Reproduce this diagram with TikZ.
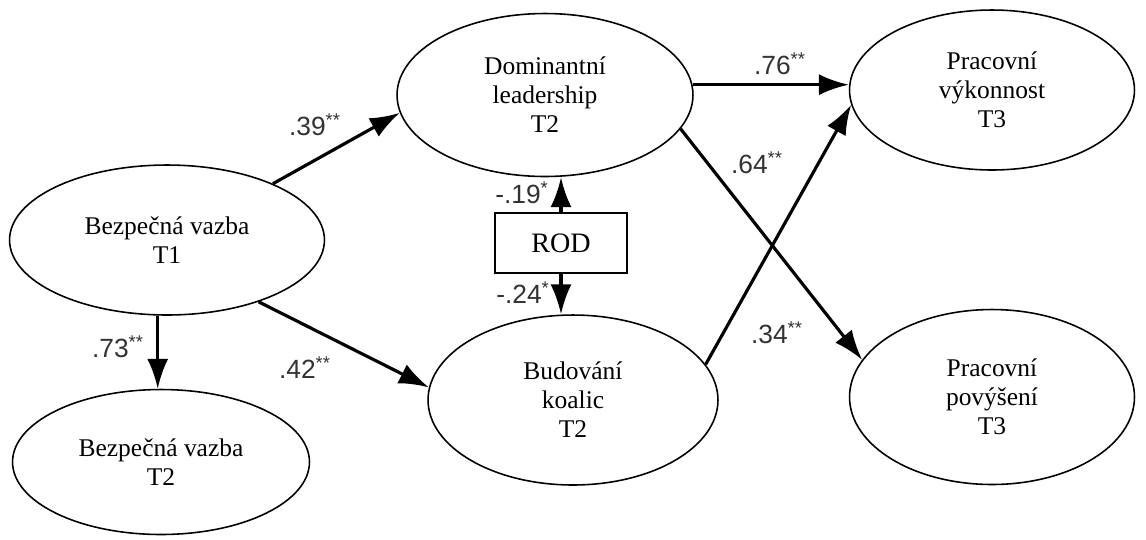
\documentclass[tikz,border=0pt]{standalone}
\usepackage{fontspec}
\setmainfont{Liberation Serif}
\newfontfamily\coeffont{Liberation Sans}
\usetikzlibrary{positioning,shapes.geometric,arrows.meta}
\definecolor{InkBlack}{RGB}{0,0,0}
\definecolor{CoefGray}{RGB}{50,50,50}

\begin{document}
\begin{tikzpicture}[
  x=0.02cm, y=-0.02cm,
  var/.style={
    ellipse, draw=InkBlack, line width=0.9pt,
    align=center, inner sep=0pt,
    font=\fontsize{14.5}{16.5}\selectfont
  },
  rodbox/.style={
    rectangle, draw=InkBlack, line width=1.5pt,
    minimum width=2.64cm, minimum height=1.2cm,
    font=\fontsize{16}{18}\selectfont
  },
  coef/.style={
    font=\coeffont\fontsize{15}{17}\selectfont,
    text=CoefGray, inner sep=1pt
  },
  arr/.style={draw=InkBlack, -{Latex[length=17pt,width=12pt]}, line width=1.8pt}
]
\useasboundingbox (0,0) rectangle (1146,539);

%% Time 1 -- attachment
\node[var, minimum width=6.3cm, minimum height=3.0cm]   (bv1) at (167,240) {Bezpečná vazba\\T1};
\node[var, minimum width=5.94cm, minimum height=2.9cm]  (bv2) at (161,462) {Bezpečná vazba\\T2};

%% Time 2 -- leadership
\node[var, minimum width=5.92cm, minimum height=3.26cm] (dl) at (545,95)  {Dominantní\\leadership\\T2};
\node[var, minimum width=5.8cm, minimum height=3.4cm]   (bk) at (573,400) {Budování\\koalic\\T2};

%% Control
\node[rodbox] (rod) at (561,243) {ROD};

%% Time 3 -- outcomes
\node[var, minimum width=5.7cm, minimum height=3.2cm]   (pv) at (992,90)  {Pracovní\\výkonnost\\T3};
\node[var, minimum width=5.7cm, minimum height=3.5cm]   (pp) at (992,397) {Pracovní\\povýšení\\T3};

%% Paths
\draw[arr] (bv1.28) -- (dl.187);
\draw[arr] (bv1.-34) -- (bk.175);
\draw[arr] (bv1.263) -- (bv1.263 |- bv2.north);
\draw[arr] (rod.north) -- (rod.north |- dl.south);
\draw[arr] (rod.south) -- (rod.south |- bk.north);
\draw[arr] (dl.4) -- (dl.4 -| pv.west);
\draw[arr] (dl.-14) -- (pp.164);
\draw[arr] (bk.15) -- (pv.186);

%% Coefficients
\node[coef] (k39) at (315,125) {.39\textsuperscript{**}};
\node[coef] (k42) at (305,368) {.42\textsuperscript{**}};
\node[coef] (k73) at (118,347) {.73\textsuperscript{**}};
\node[coef] (k19) at (522,193) {-.19\textsuperscript{*}};
\node[coef] (k24) at (523,293) {-.24\textsuperscript{*}};
\node[coef] (k76) at (780,64)  {.76\textsuperscript{**}};
\node[coef] (k64) at (757,163) {.64\textsuperscript{**}};
\node[coef] (k34) at (777,333) {.34\textsuperscript{**}};

\end{tikzpicture}
\end{document}
